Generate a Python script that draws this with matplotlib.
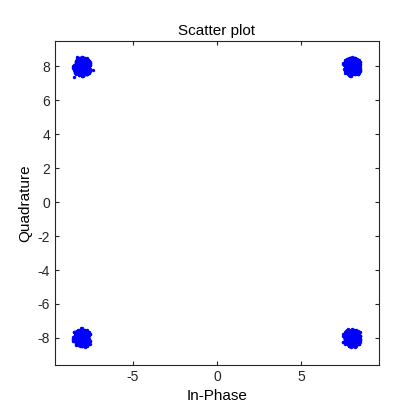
import matplotlib
matplotlib.use("Agg")
import matplotlib.pyplot as plt
plt.rcParams['axes.unicode_minus'] = False
plt.rcParams['font.family'] = ['Liberation Sans', 'DejaVu Sans']

centers_i = [-8, 8, -8, 8]
centers_q = [8, 8, -8, -8]
# noise offsets read approximately from the cluster shapes
dx = [0.05,-0.12,0.20,-0.25,0.31,-0.05,0.10,-0.33,0.15,0.02,-0.18,0.27,-0.08,0.12,-0.22,0.36,-0.40,0.07,
      -0.02,0.22,-0.15,0.18,-0.28,0.03,0.25,-0.10,0.09,-0.06,0.14,-0.20,0.30,-0.35,0.01,0.17,-0.13,0.08,
      0.45,-0.48,0.04,-0.03,0.21,-0.24,0.11,-0.16,0.33,-0.29,0.06,-0.09,0.19,-0.01,0.26,-0.21,0.13,-0.11,
      -0.55,0.50,0.00,0.16,-0.19,0.23,-0.07,0.28,-0.31,0.10,-0.14,0.35,-0.26,0.02,0.24,-0.04,0.12,-0.30]
dy = [0.10,-0.05,0.18,0.02,-0.22,0.30,-0.14,0.08,-0.28,0.25,0.12,-0.09,-0.33,0.21,-0.17,0.05,-0.02,0.37,
      -0.11,0.27,0.06,-0.24,0.15,-0.38,0.00,0.33,-0.19,0.14,-0.07,0.22,0.09,-0.12,0.44,-0.30,0.04,-0.25,
      0.11,0.08,-0.46,0.28,-0.15,0.19,0.35,-0.03,-0.18,0.24,-0.27,0.16,0.02,-0.21,0.13,-0.31,0.07,0.40,
      0.05,-0.10,0.52,-0.08,0.31,-0.36,0.20,0.03,-0.06,-0.13,0.26,0.17,-0.20,-0.42,0.09,0.23,-0.26,0.01]

n = len(dx)
xs, ys = [], []
for c, (ci, cq) in enumerate(zip(centers_i, centers_q)):
    for m, step in enumerate([1, 5, 7, 11, 13, 17]):
        for k in range(n):
            j = (k * step + 3 * m + c) % n
            ox, oy = dx[k] * 1.3, dy[j] * 1.3
            if ox * ox + oy * oy < 0.33 or (k + j) % 23 == 0:
                xs.append(ci + ox)
                ys.append(cq + oy)

fig = plt.figure(figsize=(4.2, 4.2), dpi=100)
ax = fig.add_axes([55/420, 1-365/420, 324/420, 324/420])
ax.scatter(xs, ys, s=6, c='blue', linewidths=0)
ax.set_xlim(-9.6, 9.6)
ax.set_ylim(-9.6, 9.5)
ax.set_xticks([-5, 0, 5])
ax.set_yticks([-8, -6, -4, -2, 0, 2, 4, 6, 8])
ax.tick_params(direction='in', top=True, right=True, labelsize=10, length=3, colors='#262626')
for s in ax.spines.values():
    s.set_color('#262626'); s.set_linewidth(0.8)
ax.set_title('Scatter plot', fontsize=11, pad=4)
ax.set_xlabel('In-Phase', fontsize=11)
ax.set_ylabel('Quadrature', fontsize=11)
fig.savefig('out.png')
